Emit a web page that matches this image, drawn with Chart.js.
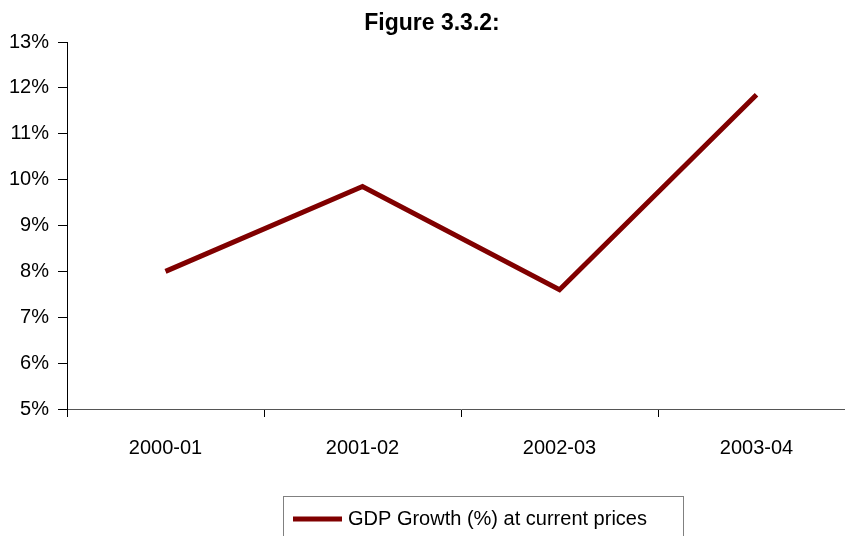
<!DOCTYPE html>
<html>
<head>
<meta charset="utf-8">
<script src="https://cdn.jsdelivr.net/npm/chart.js@4/dist/chart.umd.min.js"></script>
<style>
  html, body { margin: 0; padding: 0; background: #fff; overflow: hidden; }
  #wrap { width: 845px; height: 536px; overflow: hidden; }
</style>
</head>
<body>
<div id="wrap"><canvas id="gdpChart" width="870" height="536"></canvas></div>
<script>
// Figure 3.3.2 data
const periods = ["2000-01", "2001-02", "2002-03", "2003-04"];
const gdpGrowth = [8.0, 9.85, 7.6, 11.85];
const yTicks = [5, 6, 7, 8, 9, 10, 11, 12, 13];
const seriesLabel = "GDP Growth (%) at current prices";
const chartTitle = "Figure 3.3.2:";

const lineColor = "#800000";
const baseFont = "'Liberation Sans', Arial, sans-serif";

// title and boxed legend, drawn like the original spreadsheet chart
const figureExtras = {
  id: "figureExtras",
  afterDraw(chart) {
    const ctx = chart.ctx;
    ctx.save();
    ctx.fillStyle = "#000";
    ctx.font = "bold 23px " + baseFont;
    ctx.textAlign = "center";
    ctx.textBaseline = "middle";
    ctx.fillText(chartTitle, 432, 24);

    // legend box
    ctx.strokeStyle = "#808080";
    ctx.lineWidth = 1;
    ctx.strokeRect(283.5, 496.5, 400, 60);
    ctx.strokeStyle = chart.data.datasets[0].borderColor;
    ctx.lineWidth = 5;
    ctx.beginPath();
    ctx.moveTo(293, 519);
    ctx.lineTo(342, 519);
    ctx.stroke();
    ctx.font = "20px " + baseFont;
    ctx.textAlign = "left";
    ctx.fillText(chart.data.datasets[0].label, 348, 519);
    ctx.restore();
  },
};

new Chart(document.getElementById("gdpChart"), {
  type: "line",
  data: {
    labels: periods,
    datasets: [
      {
        label: seriesLabel,
        data: gdpGrowth,
        borderColor: lineColor,
        backgroundColor: lineColor,
        borderWidth: 5,
        borderCapStyle: "butt",
        borderJoinStyle: "miter",
        pointRadius: 0,
        tension: 0,
        fill: false,
      },
    ],
  },
  options: {
    responsive: false,
    animation: false,
    layout: { padding: { top: 42, right: 15, left: 0, bottom: 0 } },
    plugins: {
      legend: { display: false },
      title: { display: false },
      tooltip: { enabled: false },
    },
    scales: {
      x: {
        offset: true,
        afterFit: (scale) => { scale.height = 127; },
        grid: {
          offset: true,
          drawOnChartArea: false,
          drawTicks: true,
          tickLength: 8,
          tickColor: "#000",
        },
        border: { display: true, color: "#555", width: 1 },
        ticks: {
          color: "#000",
          padding: 19,
          maxRotation: 0,
          font: { family: baseFont, size: 20 },
        },
      },
      y: {
        min: yTicks[0],
        max: yTicks[yTicks.length - 1],
        afterFit: (scale) => { scale.width = 67; },
        afterBuildTicks: (scale) => { scale.ticks = yTicks.map((v) => ({ value: v })); },
        grid: {
          drawOnChartArea: false,
          drawTicks: true,
          tickLength: 9,
          tickColor: "#000",
        },
        border: { display: true, color: "#000", width: 1 },
        ticks: {
          color: "#000",
          padding: 9,
          font: { family: baseFont, size: 20 },
          callback: (v) => v + "%",
        },
      },
    },
  },
  plugins: [figureExtras],
});
</script>
</body>
</html>
